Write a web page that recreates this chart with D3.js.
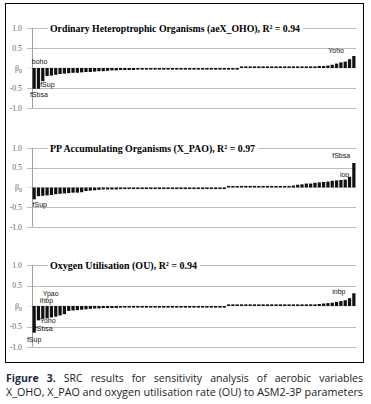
<!DOCTYPE html>
<html>
<head>
<meta charset="utf-8">
<script src="https://cdn.jsdelivr.net/npm/d3@7"></script>
<style>
  body { margin: 0; background: #fff; }
  svg { display: block; }
</style>
</head>
<body>
<div id="chart"></div>
<script>
// SRC values, sorted, one bar per ASM2-3P parameter
var ohoValues = [
  -0.52, -0.52, -0.33, -0.2, -0.19, -0.17, -0.15, -0.14, -0.13, -0.12,
  -0.12, -0.11, -0.1, -0.1, -0.09, -0.08, -0.08, -0.07, -0.06, -0.06,
  -0.05, -0.05, -0.05, -0.05, -0.04, -0.04, -0.04, -0.04, -0.04, -0.04,
  -0.04, -0.04, -0.04, -0.04, -0.04, -0.04, -0.04, -0.04, -0.04, -0.04,
  -0.04, -0.04, -0.04, -0.04, -0.04, -0.04, -0.04, -0.04, 0.04, 0.04,
  0.04, 0.04, 0.04, 0.04, 0.04, 0.04, 0.04, 0.04, 0.04, 0.04,
  0.04, 0.04, 0.04, 0.04, 0.04, 0.04, 0.05, 0.05, 0.06, 0.08,
  0.11, 0.14, 0.16, 0.22, 0.3
];
var paoValues = [
  -0.3, -0.22, -0.21, -0.2, -0.19, -0.17, -0.16, -0.15, -0.14, -0.13,
  -0.13, -0.12, -0.09, -0.08, -0.07, -0.06, -0.05, -0.05, -0.05, -0.05,
  -0.04, -0.04, -0.04, -0.04, -0.04, -0.04, -0.04, -0.04, -0.04, -0.04,
  -0.04, -0.04, -0.04, -0.04, -0.04, -0.04, -0.04, -0.04, -0.04, -0.04,
  -0.04, -0.04, -0.04, -0.04, -0.04, 0.04, 0.04, 0.04, 0.04, 0.04,
  0.04, 0.04, 0.04, 0.04, 0.04, 0.04, 0.04, 0.04,
  0.04, 0.04, 0.05, 0.07, 0.08, 0.1, 0.1, 0.12, 0.13, 0.14,
  0.15, 0.17, 0.18, 0.19, 0.2, 0.27, 0.62
];
var ouValues = [
  -0.65, -0.35, -0.31, -0.3, -0.28, -0.26, -0.23, -0.2, -0.12, -0.11,
  -0.1, -0.09, -0.08, -0.07, -0.06, -0.06, -0.05, -0.05, -0.05, -0.05,
  -0.04, -0.04, -0.04, -0.04, -0.04, -0.04, -0.04, -0.04, -0.04, -0.04,
  -0.04, -0.04, -0.04, -0.04, -0.04, -0.04, -0.04, -0.04, -0.04, -0.04,
  -0.04, -0.04, -0.04, -0.04, -0.04, 0.04, 0.04, 0.04, 0.04, 0.04,
  0.04, 0.04, 0.04, 0.04, 0.04, 0.04, 0.04, 0.04, 0.04, 0.04,
  0.04, 0.04, 0.04, 0.04, 0.04,
  0.04, 0.05, 0.06, 0.07, 0.08, 0.1, 0.12, 0.14, 0.19, 0.31
];

var titles = [
  "Ordinary Heteroptrophic Organisms (aeX_OHO), R\u00b2 = 0.94",
  "PP Accumulating Organisms (X_PAO), R\u00b2 = 0.97",
  "Oxygen Utilisation (OU), R\u00b2 = 0.94"
];
var tickValues = [1, 0.5, 0, -0.5, -1];
var tickLabels = ["1.0", "0.5", "\u03b2", "-0.5", "-1.0"];

// parameter names written next to some bars: [name, bar index]
var ohoLabels = [["boho", 1], ["fSup", 2], ["fSbsa", 0], ["Yoho", 74]];
var paoLabels = [["fSbsa", 74], ["ioo", 73], ["fSup", 0]];
var ouLabels = [["Ypao", 7], ["ihbp", 6], ["Yoho", 3], ["fSbsa", 1], ["fSup", 0], ["inbp", 74]];

var caption1 = "SRC results for sensitivity analysis of aerobic variables";
var caption2 = "X_OHO, X_PAO and oxygen utilisation rate (OU) to ASM2-3P parameters";

var W = 371, H = 404;
var svg = d3.select("#chart").append("svg")
  .attr("width", W)
  .attr("height", H);

svg.append("rect")
  .attr("x", 5.5).attr("y", 3.5)
  .attr("width", 358).attr("height", 359)
  .attr("fill", "none")
  .attr("stroke", "#000")
  .attr("stroke-width", 1);

// panel layout: y of 1.0 and -1.0, title width, label offsets
var panels = [
  { values: ohoValues, labels: ohoLabels, top: 28, bottom: 108, titleW: 250,
    offsets: [[-5, -4], [-1, 19], [-2.6, 29], [-24, -15]] },
  { values: paoValues, labels: paoLabels, top: 148, bottom: 227, titleW: 205,
    offsets: [[-20, -29.5], [-8, -10.5], [0, 19]] },
  { values: ouValues, labels: ouLabels, top: 265, bottom: 347, titleW: 147,
    offsets: [[-20, -10.5], [-18.6, -3], [-5.6, 17], [-2, 25], [-5.6, 36], [-20, -12.5]] }
];

var x = d3.scaleBand()
  .domain(d3.range(ohoValues.length))
  .range([32, 356])
  .paddingInner(0.25)
  .paddingOuter(0.12);

panels.forEach(function (p, k) {
  var y = d3.scaleLinear().domain([-1, 1]).range([p.bottom, p.top]);
  var g = svg.append("g");

  // gridlines
  g.selectAll(".grid")
    .data(tickValues.filter(function (d) { return d !== 0; }))
    .enter().append("line")
    .attr("x1", 27).attr("x2", 356)
    .attr("y1", function (d) { return Math.round(y(d)) + 0.5; })
    .attr("y2", function (d) { return Math.round(y(d)) + 0.5; })
    .attr("stroke", "#bdbdbd")
    .attr("stroke-width", 1);

  g.append("line")
    .attr("x1", 27).attr("x2", 356)
    .attr("y1", y(0)).attr("y2", y(0))
    .attr("stroke", "#d0d0d0")
    .attr("stroke-width", 0.6);

  // vertical axis
  g.append("line")
    .attr("x1", 32.5).attr("x2", 32.5)
    .attr("y1", y(1)).attr("y2", y(-1))
    .attr("stroke", "#a0a0a0");

  // tick labels
  var tl = g.selectAll(".tick")
    .data(tickValues)
    .enter().append("text")
    .attr("x", 22)
    .attr("y", function (d) { return y(d) + 2.5; })
    .attr("text-anchor", "end")
    .attr("font-family", "Liberation Serif, serif")
    .attr("font-size", 7.8)
    .attr("fill", "#666")
    .text(function (d, i) { return tickLabels[i]; });
  tl.filter(function (d) { return d === 0; })
    .append("tspan")
    .attr("dy", 2)
    .attr("font-size", 6)
    .text("0");

  // bars
  g.selectAll(".bar")
    .data(p.values)
    .enter().append("rect")
    .attr("x", function (d, i) { return x(i); })
    .attr("width", x.bandwidth())
    .attr("y", function (d) { return y(Math.max(0, d)); })
    .attr("height", function (d) { return Math.abs(y(d) - y(0)); })
    .attr("fill", "#111");

  // title with white background over the 1.0 gridline
  g.append("rect")
    .attr("x", 48).attr("y", y(1) - 6)
    .attr("width", p.titleW + 5).attr("height", 12)
    .attr("fill", "#fff");
  g.append("text")
    .attr("x", 50)
    .attr("y", y(1) + 3.5)
    .attr("font-family", "Liberation Serif, Times New Roman, serif")
    .attr("font-weight", "bold")
    .attr("font-size", 11)
    .attr("textLength", p.titleW)
    .attr("lengthAdjust", "spacingAndGlyphs")
    .attr("fill", "#000")
    .text(titles[k]);

  // parameter labels
  g.selectAll(".plabel")
    .data(p.labels)
    .enter().append("text")
    .attr("x", function (d, i) { return x(d[1]) + p.offsets[i][0]; })
    .attr("y", function (d, i) { return y(0) + p.offsets[i][1]; })
    .attr("font-family", "Liberation Sans, Arial, sans-serif")
    .attr("font-size", 7)
    .attr("fill", "#111")
    .text(function (d) { return d[0]; });
});

// caption, first line justified word by word
var capFont = "Open Sans, Noto Sans, sans-serif";
var words = ["Figure", "3."].concat(caption1.split(" "));
var wt = svg.append("g").selectAll("text")
  .data(words)
  .enter().append("text")
  .attr("y", 382)
  .attr("font-family", capFont)
  .attr("font-size", 10.5)
  .attr("font-weight", function (d, i) { return i < 2 ? "bold" : "normal"; })
  .attr("fill", function (d, i) { return i < 2 ? "#1c2a4a" : "#222"; })
  .text(function (d) { return d; });
var widths = [];
wt.each(function () { widths.push(this.getComputedTextLength()); });
var gap = (357 - d3.sum(widths)) / (words.length - 1);
var cx = 6;
wt.attr("x", function (d, i) {
  var v = cx;
  cx += widths[i] + gap;
  return v;
});

svg.append("text")
  .attr("x", 6)
  .attr("y", 396)
  .attr("font-family", capFont)
  .attr("font-size", 10.5)
  .attr("textLength", 357)
  .attr("lengthAdjust", "spacingAndGlyphs")
  .attr("fill", "#222")
  .text(caption2);
</script>
</body>
</html>
